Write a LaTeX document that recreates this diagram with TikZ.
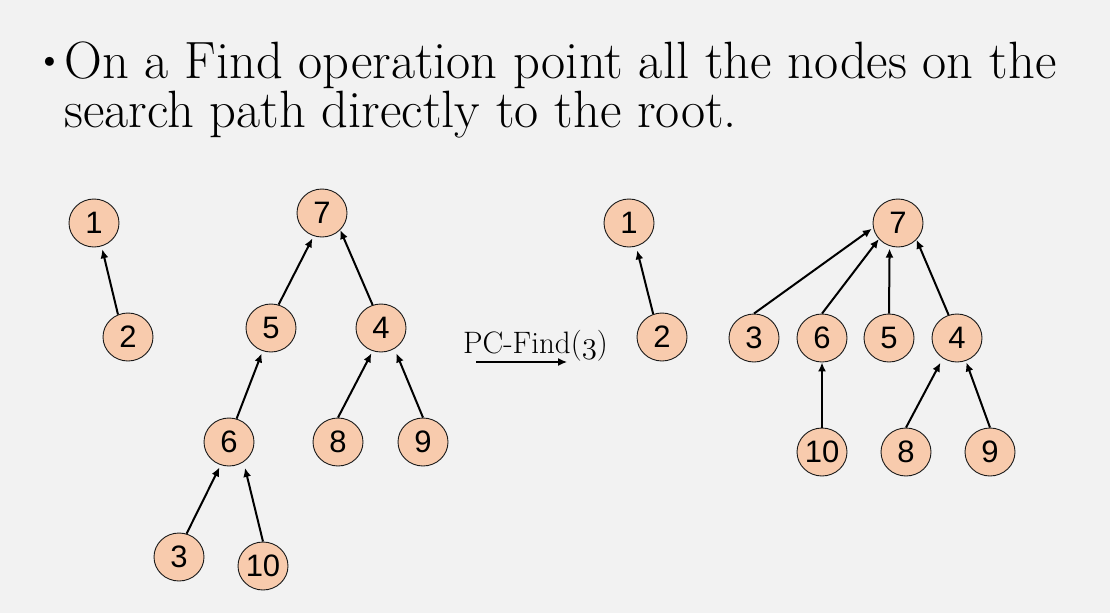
\RequirePackage{fix-cm}
\documentclass[tikz,border=0pt]{standalone}
\usepackage{fontspec}
\newfontfamily\nodefont{Liberation Sans}
\usetikzlibrary{shapes.geometric,arrows.meta}
\definecolor{bgc}{HTML}{F2F2F2}
\definecolor{peach}{HTML}{F8CBAD}
\definecolor{edgec}{HTML}{1A1A1A}
\tikzset{
  vert/.style={ellipse,draw=edgec,line width=0.9pt,fill=peach,minimum width=50pt,minimum height=48pt,inner sep=0pt,font=\nodefont\fontsize{31}{31}\selectfont},
  ptr/.style={line width=2pt,-{Latex[length=9pt,width=8pt]}},
  title/.style={anchor=base west,inner sep=0pt,font=\fontsize{52.5}{53}\selectfont},
}
\begin{document}
\begin{tikzpicture}[x=1pt,y=-1pt]
\fill[bgc] (0,0) rectangle (1110,613);
\useasboundingbox (0,0) rectangle (1110,613);
% title
\node[inner sep=0pt,font=\fontsize{40}{40}\selectfont] (bul) at (50,65) {\textbullet};
\node[title] (l1) at (64,78) {On a Find operation point all the nodes on the};
\node[title] (l2) at (64,127) {search path directly to the root.};
% left forest
\node[vert] (a1) at (94,223) {1};
\node[vert] (a2) at (128,337) {2};
\node[vert] (a7) at (322,213) {7};
\node[vert] (a5) at (271,328) {5};
\node[vert] (a4) at (381,328) {4};
\node[vert] (a6) at (229,442) {6};
\node[vert] (a8) at (338,442) {8};
\node[vert] (a9) at (423,442) {9};
\node[vert] (a3) at (179,557) {3};
\node[vert] (a10) at (263,566) {10};
\draw[ptr,shorten >=3pt] (a2.114) -- (a1.-72);
\draw[ptr,shorten >=2.5pt] (a5.72) -- (a7.250);
\draw[ptr] (a4.110) -- (a7.-43);
\draw[ptr,shorten >=2.5pt] (a6.72) -- (a5.250);
\draw[ptr,shorten >=2.5pt] (a8.north) -- (a4.250);
\draw[ptr,shorten >=5pt] (a9.north) -- (a4.303);
\draw[ptr,shorten >=2.5pt] (a3.72) -- (a6.250);
\draw[ptr,shorten >=6pt] (a10.north) -- (a6.306);
% operation label
\node[anchor=base west,inner sep=0pt,font=\fontsize{31}{31}\selectfont] (op) at (463,353) {PC-Find($\mathnormal{3}$)};
\coordinate (opS) at (476,362);
\coordinate (opE) at (567,362);
\draw[line width=1.4pt,-{Latex[length=9pt,width=8pt]}] (opS) -- (opE);
% right forest
\node[vert] (b1) at (629,223) {1};
\node[vert] (b2) at (662,337) {2};
\node[vert] (b7) at (898,223) {7};
\node[vert] (b3) at (754,338) {3};
\node[vert] (b6) at (822,338) {6};
\node[vert] (b5) at (889,338) {5};
\node[vert] (b4) at (957,338) {4};
\node[vert] (b10) at (822,452) {10};
\node[vert] (b8) at (906,452) {8};
\node[vert] (b9) at (990,452) {9};
\draw[ptr,shorten >=4pt] (b2.111) -- (b1.-73);
\draw[ptr,shorten >=1.5pt] (b3.north) -- (b7.191);
\draw[ptr] (b6.north) -- (b7.220);
\draw[ptr,shorten >=2.5pt] (b5.north) -- (b7.250);
\draw[ptr] (b4.110) -- (b7.-42);
\draw[ptr] (b10.north) -- (b6.south);
\draw[ptr,shorten >=5pt] (b8.north) -- (b4.235);
\draw[ptr,shorten >=1.5pt] (b9.north) -- (b4.-69);
\end{tikzpicture}
\end{document}
